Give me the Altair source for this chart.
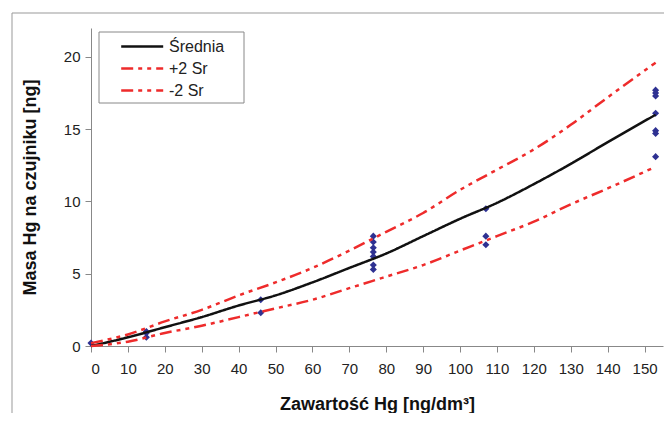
import altair as alt
import pandas as pd

# Fitted curves
curve_x = [0, 10, 20, 30, 40, 50, 60, 70, 80, 90, 100, 110, 120, 130, 140, 153]
mean_y = [0.0, 0.6, 1.3, 2.0, 2.8, 3.5, 4.4, 5.4, 6.4, 7.6, 8.8, 9.9, 11.2, 12.6, 14.1, 16.0]
upper_y = [0.2, 0.8, 1.7, 2.5, 3.5, 4.4, 5.4, 6.6, 7.9, 9.2, 10.8, 12.2, 13.6, 15.3, 17.2, 19.6]
lower_y = [0.0, 0.3, 0.9, 1.4, 2.0, 2.6, 3.2, 4.0, 4.8, 5.6, 6.6, 7.6, 8.6, 9.8, 10.9, 12.4]

series_names = ["Średnia", "+2 Sr", "-2 Sr"]

# Measured points
pts_x = [0, 15, 15, 15, 46, 46,
         76.5, 76.5, 76.5, 76.5, 76.5, 76.5, 76.5,
         107, 107, 107,
         153, 153, 153, 153, 153, 153, 153]
pts_y = [0.2, 1.0, 0.9, 0.6, 3.2, 2.3,
         7.6, 7.2, 6.8, 6.5, 6.2, 5.6, 5.3,
         9.5, 7.6, 7.0,
         17.7, 17.5, 17.3, 16.1, 14.9, 14.7, 13.1]

x_ticks = list(range(0, 151, 10))
y_ticks = [0, 5, 10, 15, 20]

rows = []
for name, ys in zip(series_names, [mean_y, upper_y, lower_y]):
    for xv, yv in zip(curve_x, ys):
        rows.append({"x": xv, "y": yv, "s": name})
curves = pd.DataFrame(rows)
points = pd.DataFrame({"x": pts_x, "y": pts_y})

FONT = "Liberation Sans"

xscale = alt.Scale(domain=[0, 155], nice=False, zero=False)
yscale = alt.Scale(domain=[0, 22], nice=False)

xaxis = alt.Axis(values=x_ticks, title="Zawartość Hg [ng/dm³]", grid=False,
                 labelPadding=9, titlePadding=19, tickSize=6, labelOverlap=False)
yaxis = alt.Axis(values=y_ticks, title="Masa Hg na czujniku [ng]", grid=False,
                 labelPadding=5, titlePadding=24, tickSize=6, labelOverlap=False)

lines = alt.Chart(curves).mark_line(interpolate="monotone", strokeWidth=2.5).encode(
    x=alt.X("x:Q", scale=xscale, axis=xaxis),
    y=alt.Y("y:Q", scale=yscale, axis=yaxis),
    color=alt.Color("s:N", scale=alt.Scale(domain=series_names,
                                           range=["#111111", "#ee2b2b", "#ee2b2b"]),
                    legend=alt.Legend(title=None, orient="none", legendX=8, legendY=4,
                                      padding=6, symbolType="M1.1,0H7.1",
                                      symbolSize=196, symbolStrokeWidth=2.5,
                                      labelFontSize=16, labelFont=FONT,
                                      labelColor="#222222", rowPadding=5,
                                      labelLimit=300, labelOffset=47)),
    strokeDash=alt.StrokeDash("s:N", scale=alt.Scale(domain=series_names,
                                                     range=[[1, 0], [12, 5, 4, 5, 4, 5], [12, 5, 4, 5, 4, 5]]),
                              legend=None),
    detail="s:N",
)

dots = alt.Chart(points).mark_point(shape="diamond", filled=True, size=50,
                                    color="#2e3192", opacity=1).encode(
    x=alt.X("x:Q", scale=xscale, axis=xaxis),
    y=alt.Y("y:Q", scale=yscale, axis=yaxis),
)

deco = pd.DataFrame({"a": [0]})
frame = alt.Chart(deco).mark_rect(
    fill=None, stroke="#999999", strokeWidth=1).encode(
    x=alt.value(-79), x2=alt.value(700), y=alt.value(-15), y2=alt.value(500))

legend_box = alt.Chart(deco).mark_rect(
    fill="white", stroke="#888888", strokeWidth=1).encode(
    x=alt.value(8), x2=alt.value(153), y=alt.value(4), y2=alt.value(75))

chart = alt.layer(frame, dots, lines, legend_box).properties(
    width=572, height=318,
    autosize=alt.AutoSizeParams(type="none"),
    padding={"left": 83, "top": 20, "right": 1, "bottom": 67},
).configure_view(stroke=None).configure_axis(
    domainColor="#888888", tickColor="#888888", labelColor="#222222",
    labelFont=FONT, labelFontSize=15, titleFont=FONT, titleFontSize=18,
    titleFontWeight="bold", titleColor="#111111",
)

chart.save("out.html", embed_options={"renderer": "svg", "actions": False})
